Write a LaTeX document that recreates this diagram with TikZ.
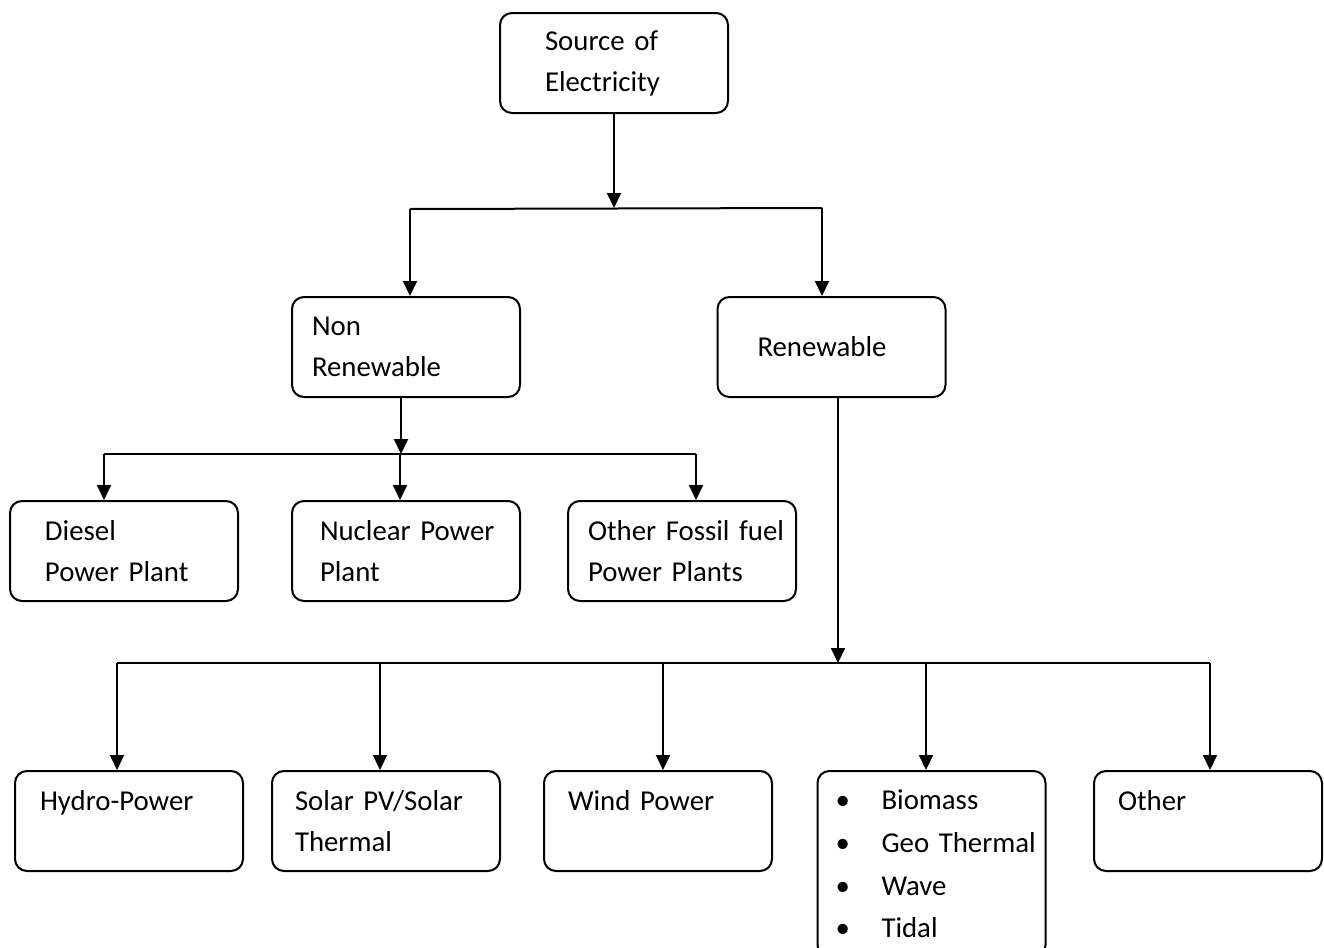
\documentclass[tikz,border=0pt]{standalone}
\usepackage{fontspec}
\setmainfont{Carlito}
\usepackage{tikz}
\usetikzlibrary{arrows.meta}

\tikzset{
  box/.style={draw, line width=1pt, rounded corners=6pt, minimum width=114pt, minimum height=50pt, align=left},
  arr/.style={line width=1pt, -{Triangle[length=7.5pt,width=7pt]}},
  bar/.style={line width=1pt}
}
\newcommand{\bul}[1]{\mbox{\makebox[23pt][l]{•}#1}}

\begin{document}
\begin{tikzpicture}[x=0.5pt,y=-0.5pt]
\fontsize{14.4pt}{20.5pt}\selectfont
\useasboundingbox (0,0) rectangle (1324,948);
\node [box, text width=69pt] (src) at (614,63) {\mbox{Source of}\\Electricity};
\node [box, text width=94pt] (nonren) at (406,347) {Non\\Renewable};
\node [box, text width=74pt] (ren) at (831.5,347) {Renewable};
\node [box, text width=79pt] (diesel) at (124,551) {Diesel\\\mbox{Power Plant}};
\node [box, text width=86pt] (nuclear) at (406,551) {\mbox{Nuclear Power}\\Plant};
\node [box, text width=94pt] (fossil) at (682,551) {\mbox{Other Fossil fuel}\\\mbox{Power Plants}};
\node [box, text width=89pt] (hydro) at (129,821) {Hydro-Power\\\mbox{}};
\node [box, text width=91pt] (solar) at (386,821) {\mbox{Solar PV/Solar}\\Thermal};
\node [box, text width=90pt] (wind) at (658,821) {\mbox{Wind Power}\\\mbox{}};
\node [box, text width=96pt, minimum height=93pt] (bio) at (931.5,864)
  {\bul{Biomass}\\[0.8pt]\bul{Geo Thermal}\\[0.8pt]\bul{Wave}\\[0.8pt]\bul{Tidal}};
\node [box, text width=90pt] (other) at (1208,821) {Other\\\mbox{}};
\coordinate (s1) at (614,208);
\coordinate (b1l) at (410,209);
\coordinate (b1r) at (822,208);
\coordinate (s2) at (401,454);
\coordinate (b2l) at (104,454);
\coordinate (b2m) at (400,454);
\coordinate (b2r) at (696,454);
\coordinate (s3) at (838,663);
\coordinate (b3a) at (117,663);
\coordinate (b3b) at (380,663);
\coordinate (b3c) at (663,663);
\coordinate (b3d) at (926,663);
\coordinate (b3e) at (1210,663);
\draw [arr] (src.south) -- (s1);
\draw [bar] (b1l) -- (b1r);
\draw [arr] (b1l) -- (b1l |- nonren.north);
\draw [arr] (b1r) -- (b1r |- ren.north);
\draw [arr] (nonren.south -| s2) -- (s2);
\draw [bar] (b2l) -- (b2r);
\draw [arr] (b2l) -- (b2l |- diesel.north);
\draw [arr] (b2m) -- (b2m |- nuclear.north);
\draw [arr] (b2r) -- (b2r |- fossil.north);
\draw [arr] (ren.south -| s3) -- (s3);
\draw [bar] (b3a) -- (b3e);
\draw [arr] (b3a) -- (b3a |- hydro.north);
\draw [arr] (b3b) -- (b3b |- solar.north);
\draw [arr] (b3c) -- (b3c |- wind.north);
\draw [arr] (b3d) -- (b3d |- bio.north);
\draw [arr] (b3e) -- (b3e |- other.north);
\end{tikzpicture}
\end{document}
